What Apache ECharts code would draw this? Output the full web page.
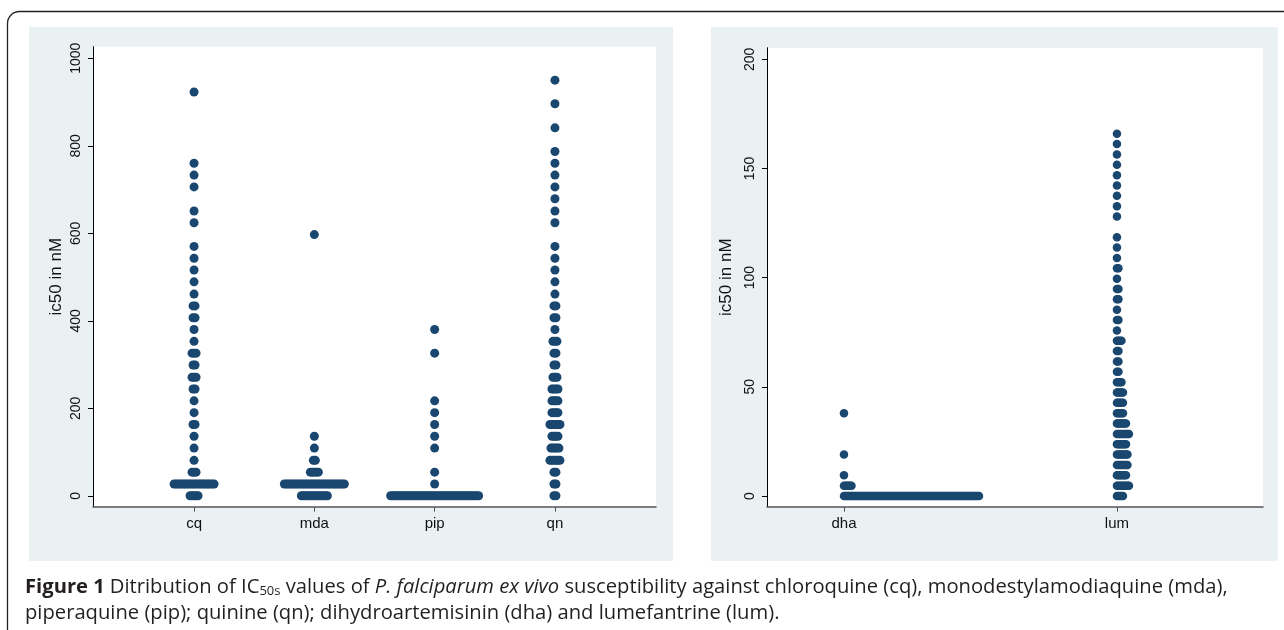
<!DOCTYPE html>
<html><head><meta charset="utf-8">
<script src="https://cdn.jsdelivr.net/npm/echarts@6/dist/echarts.min.js"></script>
<style>html,body{margin:0;padding:0;background:#fff}#c{width:1284px;height:630px}</style>
</head><body><div id="c"></div>
<script>
// ---- data ----
const leftCategories = ['cq', 'mda', 'pip', 'qn'];
const rightCategories = ['dha', 'lum'];
const leftTicks = [0, 200, 400, 600, 800, 1000];
const rightTicks = [0, 50, 100, 150, 200];
const yTitle = 'ic50 in nM';

const cqValues = [0,27,54,81,109,136,163,190,217,244,271,299,326,353,380,407,434,461,489,516,543,570,624,651,706,733,760,923];
const cqCounts = [5,21,3,1,1,1,2,1,1,2,3,2,3,1,1,2,2,1,1,1,1,1,1,1,1,1,1,1];

const mdaValues = [0,27,54,81,109,136,597];
const mdaCounts = [14,31,5,2,1,1,1];

const pipValues = [0,27,54,109,136,163,190,217,326,380];
const pipCounts = [45,1,1,1,1,1,1,1,1,1];

const qnValues = [0,27,54,81,109,136,163,190,217,244,271,299,326,353,380,407,434,461,489,516,543,570,624,651,679,706,733,760,787,841,896,950];
const qnCounts = [2,2,2,6,5,4,6,4,4,4,3,2,2,3,1,2,2,1,1,1,1,1,1,1,1,1,1,1,1,1,1,1];

const dhaValues = [0,4.7,9.5,19.0,37.9];
const dhaCounts = [91,6,1,1,1];

const lumValues = [0,4.7,9.5,14.2,19.0,23.7,28.4,33.2,37.9,42.7,47.4,52.1,56.9,61.6,66.4,71.1,75.8,80.6,85.3,90.1,94.8,99.5,104.3,109.0,113.8,118.5,128.0,132.7,137.5,142.2,146.9,151.7,156.4,161.2,165.9];
const lumCounts = [5,9,7,8,8,7,9,7,5,5,5,4,2,2,2,4,1,2,1,2,2,1,2,1,1,1,1,1,1,1,1,1,1,1,1];

// ---- build ----
const DOT = '#1a476f';
function dots(catX, values, counts, centered, stepPx) {
  const out = [];
  values.forEach((v, i) => {
    const n = counts[i];
    for (let j = 0; j < n; j++) {
      const off = centered ? (j - (n - 1) / 2) * stepPx : j * stepPx;
      out.push({ value: [catX, v], symbolOffset: [off, 0] });
    }
  });
  return out;
}
function scatter(name, xi, data, size) {
  return { name, type: 'scatter', xAxisIndex: xi, yAxisIndex: xi, data,
    symbol: 'circle', symbolSize: size, itemStyle: { color: DOT, opacity: 1 },
    silent: true, animation: false, clip: false };
}

const leftSets = [[cqValues, cqCounts], [mdaValues, mdaCounts], [pipValues, pipCounts], [qnValues, qnCounts]];
const rightSets = [[dhaValues, dhaCounts], [lumValues, lumCounts]];
const series = [];
leftSets.forEach((s, i) => series.push(scatter(leftCategories[i], 0, dots(i + 1, s[0], s[1], true, 2), 9)));
rightSets.forEach((s, i) => series.push(scatter(rightCategories[i], 1, dots(i + 1, s[0], s[1], false, 1.5), 8.5)));

const FONT = 'Liberation Sans';
function xAxis(gi, cats, min, max) {
  const vals = cats.map((c, i) => i + 1);
  return { type: 'value', gridIndex: gi, min, max,
    axisLine: { onZero: false, lineStyle: { color: '#555', width: 1.5 } },
    axisTick: { customValues: vals, length: 5, lineStyle: { color: '#555', width: 1 } },
    axisLabel: { customValues: vals, formatter: v => cats[Math.round(v) - 1], margin: 10,
      fontFamily: FONT, fontSize: 15, color: '#111' },
    splitLine: { show: false } };
}
function yAxis(gi, ticks, min, max, gap) {
  return { type: 'value', gridIndex: gi, min, max,
    name: yTitle, nameLocation: 'middle', nameRotate: 90, nameGap: gap,
    nameTextStyle: { fontFamily: FONT, fontSize: 17, color: '#111' },
    axisLine: { onZero: false, lineStyle: { color: '#000', width: 1 } },
    axisTick: { customValues: ticks, length: 5, lineStyle: { color: '#000', width: 1 } },
    axisLabel: { customValues: ticks, rotate: 90, margin: 10, formatter: v => String(v),
      fontFamily: FONT, fontSize: 14, color: '#111' },
    splitLine: { show: false } };
}

const CAP = 'Open Sans';
const CAPSIZE = 20.2;
const option = {
  animation: false,
  backgroundColor: '#fff',
  graphic: [
    { type: 'rect', z: -10, shape: { x: 29, y: 27, width: 644, height: 534 }, style: { fill: '#e9f1f3' }, silent: true },
    { type: 'rect', z: -10, shape: { x: 711, y: 27, width: 567, height: 534 }, style: { fill: '#e9f1f3' }, silent: true },
    { type: 'rect', z: 10, shape: { x: 7.5, y: 11.5, width: 1300, height: 640, r: 12 }, style: { fill: 'none', stroke: '#222', lineWidth: 1.3 }, silent: true }
  ],
  title: {
    left: 20, top: 569,
    text: '{b|Figure 1} {r|Ditribution of IC}{sub|50s}{r| values of }{i|P. falciparum ex vivo}{r| susceptibility against chloroquine (cq), monodestylamodiaquine (mda),}\n{r|piperaquine (pip); quinine (qn); dihydroartemisinin (dha) and lumefantrine (lum).}',
    textStyle: {
      fontWeight: 'normal',
      rich: {
        b: { fontFamily: CAP, fontSize: CAPSIZE, fontWeight: 'bold', color: '#231f20', lineHeight: 26 },
        r: { fontFamily: CAP, fontSize: CAPSIZE, fontWeight: 'normal', color: '#231f20', lineHeight: 26 },
        i: { fontFamily: CAP, fontSize: CAPSIZE, fontWeight: 'normal', fontStyle: 'italic', color: '#231f20', lineHeight: 26 },
        sub: { fontFamily: CAP, fontSize: 13, fontWeight: 'normal', color: '#231f20', lineHeight: 26, verticalAlign: 'bottom', padding: [0, 0, 2, 0] }
      }
    }
  },
  grid: [
    { left: 93, top: 46.7, width: 563, height: 460, show: true, backgroundColor: '#fff', borderWidth: 0 },
    { left: 767, top: 47.7, width: 496, height: 459, show: true, backgroundColor: '#fff', borderWidth: 0 }
  ],
  xAxis: [xAxis(0, leftCategories, 0.16, 4.84), xAxis(1, rightCategories, 0.718, 2.535)],
  yAxis: [yAxis(0, leftTicks, -25, 1026.5, 28), yAxis(1, rightTicks, -4.9, 205.3, 32)],
  series
};
const chart = echarts.init(document.getElementById('c'), null, { renderer: 'canvas' });
chart.setOption(option);
</script></body></html>
